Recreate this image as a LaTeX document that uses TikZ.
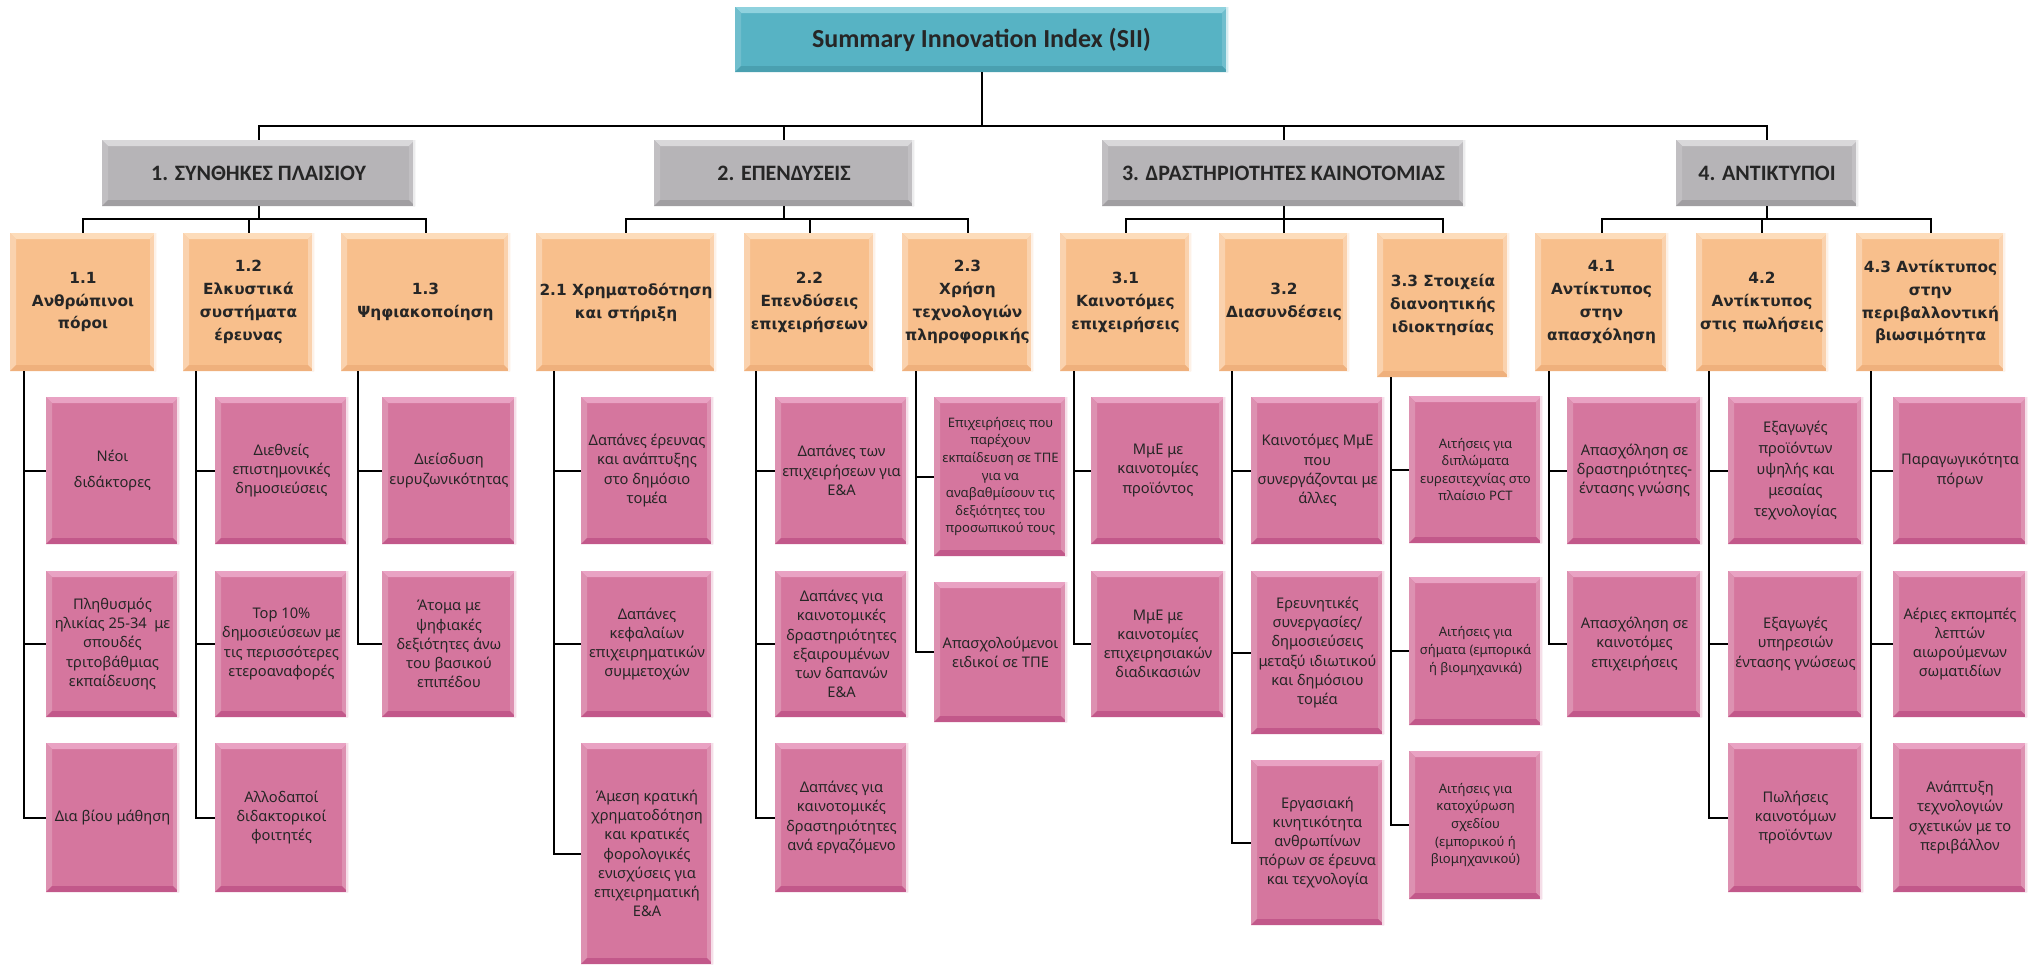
\documentclass[tikz,border=0pt]{standalone}
\usepackage{fontspec}
\setmainfont{Noto Sans}
\newfontfamily\calfont{Carlito}
\newfontfamily\hdfont{DejaVu Sans}
\usetikzlibrary{calc}
\definecolor{tealB}{HTML}{57B3C4}
\definecolor{tealL}{HTML}{8FD2DE}
\definecolor{tealD}{HTML}{4AA0B0}
\definecolor{grayB}{HTML}{B6B4B7}
\definecolor{grayL}{HTML}{D9D8DA}
\definecolor{grayD}{HTML}{A09EA1}
\definecolor{orB}{HTML}{F8BF8C}
\definecolor{orL}{HTML}{FDDCBA}
\definecolor{orD}{HTML}{EFB07C}
\definecolor{pkB}{HTML}{D5769E}
\definecolor{pkL}{HTML}{E9A2C3}
\definecolor{pkD}{HTML}{C2588A}
\definecolor{txt}{HTML}{262626}
\newcommand\bvw{4.5pt}
\tikzset{
  x=0.75pt, y=-0.75pt,
  boxat/.style n args={4}{at={({(#1+#3)/2},{(#2+#4)/2})},
    minimum width={(#3-#1)*0.75pt}, minimum height={(#4-#2)*0.75pt}},
  bevel/.style n args={4}{fill=#1, inner sep=0pt, align=center, text=txt,
    path picture={
      \fill[#2] (path picture bounding box.north west) -- (path picture bounding box.north east)
        -- ([shift={(-\bvw,-\bvw)}]path picture bounding box.north east)
        -- ([shift={(\bvw,-\bvw)}]path picture bounding box.north west) -- cycle;
      \fill[#3] (path picture bounding box.north west) -- (path picture bounding box.south west)
        -- ([shift={(\bvw,\bvw)}]path picture bounding box.south west)
        -- ([shift={(\bvw,-\bvw)}]path picture bounding box.north west) -- cycle;
      \fill[#3] (path picture bounding box.north east) -- (path picture bounding box.south east)
        -- ([shift={(-\bvw,\bvw)}]path picture bounding box.south east)
        -- ([shift={(-\bvw,-\bvw)}]path picture bounding box.north east) -- cycle;
      \fill[#4] (path picture bounding box.south west) -- (path picture bounding box.south east)
        -- ([shift={(-\bvw,\bvw)}]path picture bounding box.south east)
        -- ([shift={(\bvw,\bvw)}]path picture bounding box.south west) -- cycle;
      \fill[white!70!#3] ([xshift=-1.2pt]path picture bounding box.north east) rectangle (path picture bounding box.south east);
    }},
  titlebox/.style={bevel={tealB}{tealL}{tealB!85!white}{tealD}, font=\calfont\bfseries\fontsize{19.5}{22}\selectfont},
  catbox/.style={bevel={grayB}{grayL}{grayB!85!white}{grayD}, font=\calfont\bfseries\fontsize{16.5}{19}\selectfont},
  subbox/.style={bevel={orB}{orL}{orB!70!white}{orD}, font=\hdfont\bfseries\fontsize{11.5}{17.2}\selectfont},
  indbox/.style={bevel={pkB}{pkL}{pkB!80!white}{pkD}, font=\fontsize{11}{14.4}\selectfont},
  indsmall/.style={indbox, font=\fontsize{9.8}{13.2}\selectfont},
  conn/.style={draw=black, line width=1.5pt}
}
\begin{document}
\begin{tikzpicture}
\useasboundingbox (0,0) rectangle (2033,965);
% title
\node[titlebox, boxat={735}{7}{1228}{72}] (sii) {Summary Innovation Index (SII)};
% categories
\node[catbox, boxat={102}{140}{415}{206}] (g1) {1. ΣΥΝΘΗΚΕΣ ΠΛΑΙΣΙΟΥ};
\node[catbox, boxat={654}{140}{914}{206}] (g2) {2. ΕΠΕΝΔΥΣΕΙΣ};
\node[catbox, boxat={1102}{140}{1465}{206}] (g3) {3. ΔΡΑΣΤΗΡΙΟΤΗΤΕΣ ΚΑΙΝΟΤΟΜΙΑΣ};
\node[catbox, boxat={1676}{140}{1858}{206}] (g4) {4. ΑΝΤΙΚΤΥΠΟΙ};
% sub-dimensions
\node[subbox, boxat={10}{233}{156}{371}] (o11) {1.1\\Ανθρώπινοι\\πόροι};
\node[subbox, boxat={183}{233}{314}{371}] (o12) {1.2\\Ελκυστικά\\συστήματα\\έρευνας};
\node[subbox, boxat={341}{233}{510}{371}] (o13) {1.3\\Ψηφιακοποίηση};
\node[subbox, boxat={536}{233}{716}{371}] (o21) {2.1 Χρηματοδότηση\\και στήριξη};
\node[subbox, boxat={744}{233}{875}{371}] (o22) {2.2\\Επενδύσεις\\επιχειρήσεων};
\node[subbox, boxat={902}{233}{1033}{371}] (o23) {2.3\\Χρήση\\τεχνολογιών\\πληροφορικής};
\node[subbox, boxat={1060}{233}{1191}{371}] (o31) {3.1\\Καινοτόμες\\επιχειρήσεις};
\node[subbox, boxat={1219}{233}{1349}{371}] (o32) {3.2\\Διασυνδέσεις};
\node[subbox, boxat={1377}{233}{1509}{377}] (o33) {3.3 Στοιχεία\\διανοητικής\\ιδιοκτησίας};
\node[subbox, boxat={1535}{233}{1668}{371}] (o41) {4.1\\Αντίκτυπος\\στην\\απασχόληση};
\node[subbox, boxat={1696}{233}{1828}{371}] (o42) {4.2\\Αντίκτυπος\\στις πωλήσεις};
\node[subbox, boxat={1856}{233}{2005}{371}] (o43) {4.3 Αντίκτυπος\\στην\\περιβαλλοντική\\βιωσιμότητα};
% indicators 1.x
\node[indbox, boxat={46}{397}{179}{544}] (p111) {Νέοι\\[5pt]διδάκτορες};
\node[indbox, boxat={46}{571}{179}{717}] (p112) {Πληθυσμός\\ηλικίας 25-34~ με\\σπουδές\\τριτοβάθμιας\\εκπαίδευσης};
\node[indbox, boxat={46}{743}{179}{892}] (p113) {Δια βίου μάθηση};
\node[indbox, boxat={215}{397}{348}{544}] (p121) {Διεθνείς\\επιστημονικές\\δημοσιεύσεις};
\node[indbox, boxat={215}{571}{348}{717}] (p122) {Top 10\%\\δημοσιεύσεων με\\τις περισσότερες\\ετεροαναφορές};
\node[indbox, boxat={215}{743}{348}{892}] (p123) {Αλλοδαποί\\διδακτορικοί\\φοιτητές};
\node[indbox, boxat={382}{397}{516}{544}] (p131) {Διείσδυση\\ευρυζωνικότητας};
\node[indbox, boxat={382}{571}{516}{717}] (p132) {Άτομα με\\ψηφιακές\\δεξιότητες άνω\\του βασικού\\επιπέδου};
% indicators 2.x
\node[indbox, boxat={581}{397}{713}{544}] (p211) {Δαπάνες έρευνας\\και ανάπτυξης\\στο δημόσιο\\τομέα};
\node[indbox, boxat={581}{571}{713}{717}] (p212) {Δαπάνες\\κεφαλαίων\\επιχειρηματικών\\συμμετοχών};
\node[indbox, boxat={581}{743}{713}{964}] (p213) {Άμεση κρατική\\χρηματοδότηση\\και κρατικές\\φορολογικές\\ενισχύσεις για\\επιχειρηματική\\Ε\&Α};
\node[indbox, boxat={775}{397}{908}{544}] (p221) {Δαπάνες των\\επιχειρήσεων για\\Ε\&Α};
\node[indbox, boxat={775}{571}{908}{717}] (p222) {Δαπάνες για\\καινοτομικές\\δραστηριότητες\\εξαιρουμένων\\των δαπανών\\Ε\&Α};
\node[indbox, boxat={775}{743}{908}{892}] (p223) {Δαπάνες για\\καινοτομικές\\δραστηριότητες\\ανά εργαζόμενο};
\node[indsmall, boxat={934}{397}{1067}{556}] (p231) {Επιχειρήσεις που\\παρέχουν\\εκπαίδευση σε ΤΠΕ\\για να\\αναβαθμίσουν τις\\δεξιότητες του\\προσωπικού τους};
\node[indbox, boxat={934}{582}{1067}{722}] (p232) {Απασχολούμενοι\\ειδικοί σε ΤΠΕ};
% indicators 3.x
\node[indbox, boxat={1091}{397}{1225}{544}] (p311) {ΜμΕ με\\καινοτομίες\\προϊόντος};
\node[indbox, boxat={1091}{571}{1225}{717}] (p312) {ΜμΕ με\\καινοτομίες\\επιχειρησιακών\\διαδικασιών};
\node[indbox, boxat={1251}{397}{1384}{544}] (p321) {Καινοτόμες ΜμΕ\\που\\συνεργάζονται με\\άλλες};
\node[indbox, boxat={1251}{571}{1384}{734}] (p322) {Ερευνητικές\\συνεργασίες/\\δημοσιεύσεις\\μεταξύ ιδιωτικού\\και δημόσιου\\τομέα};
\node[indbox, boxat={1251}{760}{1384}{925}] (p323) {Εργασιακή\\κινητικότητα\\ανθρωπίνων\\πόρων σε έρευνα\\και τεχνολογία};
\node[indsmall, boxat={1409}{396}{1542}{543}] (p331) {Αιτήσεις για\\διπλώματα\\ευρεσιτεχνίας στο\\πλαίσιο PCT};
\node[indsmall, boxat={1409}{577}{1542}{725}] (p332) {Αιτήσεις για\\σήματα (εμπορικά\\ή βιομηχανικά)};
\node[indsmall, boxat={1409}{751}{1542}{899}] (p333) {Αιτήσεις για\\κατοχύρωση\\σχεδίου\\(εμπορικού ή\\βιομηχανικού)};
% indicators 4.x
\node[indbox, boxat={1567}{397}{1702}{544}] (p411) {Απασχόληση σε\\δραστηριότητες-\\έντασης γνώσης};
\node[indbox, boxat={1567}{571}{1702}{717}] (p412) {Απασχόληση σε\\καινοτόμες\\επιχειρήσεις};
\node[indbox, boxat={1728}{397}{1863}{544}, font=\fontsize{11}{15.8}\selectfont] (p421) {Εξαγωγές\\προϊόντων\\υψηλής και\\μεσαίας\\τεχνολογίας};
\node[indbox, boxat={1728}{571}{1863}{717}] (p422) {Εξαγωγές\\υπηρεσιών\\έντασης γνώσεως};
\node[indbox, boxat={1728}{743}{1863}{892}] (p423) {Πωλήσεις\\καινοτόμων\\προϊόντων};
\node[indbox, boxat={1893}{397}{2027}{544}] (p431) {Παραγωγικότητα\\πόρων};
\node[indbox, boxat={1893}{571}{2027}{717}] (p432) {Αέριες εκπομπές\\λεπτών\\αιωρούμενων\\σωματιδίων};
\node[indbox, boxat={1893}{743}{2027}{892}] (p433) {Ανάπτυξη\\τεχνολογιών\\σχετικών με το\\περιβάλλον};
% connectors: title -> categories
\foreach \g in {g1,g2,g3,g4}{\draw[conn] (sii.south) -- ++(0,54) -| (\g.north);}
% categories -> sub-dimensions
\foreach \o in {o11,o12,o13}{\draw[conn] (g1.south) -- ++(0,13) -| (\o.north);}
\foreach \o in {o21,o22,o23}{\draw[conn] (g2.south) -- ++(0,13) -| (\o.north);}
\foreach \o in {o31,o32,o33}{\draw[conn] (g3.south) -- ++(0,13) -| (\o.north);}
\foreach \o in {o41,o42,o43}{\draw[conn] (g4.south) -- ++(0,13) -| (\o.north);}
% spine x positions
\coordinate (l11) at (24,0);   \coordinate (l12) at (196,0);  \coordinate (l13) at (358,0);
\coordinate (l21) at (554,0);  \coordinate (l22) at (756,0);  \coordinate (l23) at (916,0);
\coordinate (l31) at (1074,0); \coordinate (l32) at (1232,0); \coordinate (l33) at (1391,0);
\coordinate (l41) at (1549,0); \coordinate (l42) at (1709,0); \coordinate (l43) at (1871,0);
% sub-dimensions -> indicators
\foreach \s/\o/\last/\rest in {l11/o11/p113/{p111,p112}, l12/o12/p123/{p121,p122}, l13/o13/p132/{p131},
  l21/o21/p213/{p211,p212}, l22/o22/p223/{p221,p222}, l23/o23/p232/{p231},
  l31/o31/p312/{p311}, l32/o32/p323/{p321,p322}, l33/o33/p333/{p331,p332},
  l41/o41/p412/{p411}, l42/o42/p423/{p421,p422}, l43/o43/p433/{p431,p432}}{
  \draw[conn] (\o.south -| \s) |- (\last.west);
  \foreach \p in \rest {\draw[conn] (\p.west -| \s) -- (\p.west);}
}
\end{tikzpicture}
\end{document}
